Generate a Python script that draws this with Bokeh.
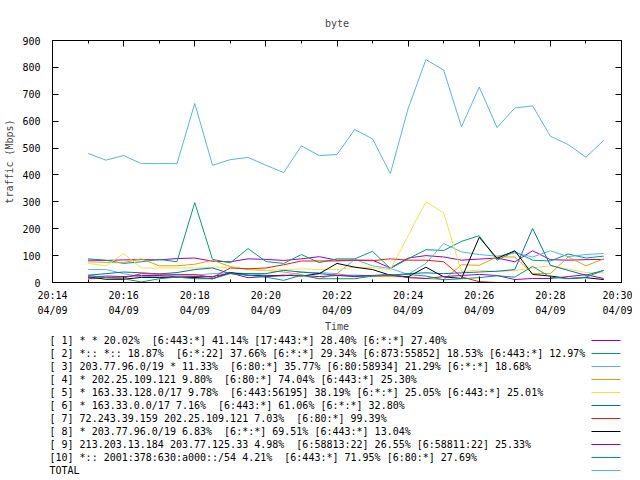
from bokeh.plotting import figure
from bokeh.models import FixedTicker, LinearAxis, Range1d
from bokeh.layouts import column
from bokeh.embed import file_html
from bokeh.resources import INLINE
from bokeh.core.properties import value

# ---------------- data ----------------
times = ["20:15:00", "20:15:30", "20:16:00", "20:16:30", "20:17:00", "20:17:30",
         "20:18:00", "20:18:30", "20:19:00", "20:19:30", "20:20:00", "20:20:30",
         "20:21:00", "20:21:30", "20:22:00", "20:22:30", "20:23:00", "20:23:30",
         "20:24:00", "20:24:30", "20:25:00", "20:25:30", "20:26:00", "20:26:30",
         "20:27:00", "20:27:30", "20:28:00", "20:28:30", "20:29:00", "20:29:30"]

s1 = [83, 82, 84, 85, 84, 89, 91, 79, 77, 88, 86, 82, 88, 96, 83, 83, 83, 54, 91, 100,
      95, 83, 87, 91, 77, 118, 85, 83, 85, 86]
s2 = [88, 83, 71, 77, 86, 77, 297, 86, 73, 126, 78, 71, 104, 74, 88, 88, 116, 52, 88, 122,
      119, 153, 174, 83, 115, 83, 80, 106, 91, 98]
s3 = [48, 48, 33, 21, 24, 27, 27, 33, 37, 33, 27, 24, 38, 37, 33, 86, 62, 52, 30, 71,
      145, 114, 104, 98, 110, 95, 118, 96, 104, 108]
s4 = [77, 75, 74, 88, 62, 62, 68, 83, 59, 48, 45, 39, 29, 14, 33, 21, 22, 22, 21, 15,
      11, 66, 64, 95, 95, 33, 33, 95, 62, 88]
s5 = [71, 62, 108, 54, 54, 54, 54, 57, 57, 51, 45, 48, 51, 48, 48, 57, 55, 48, 174, 300,
      259, 40, 46, 40, 44, 54, 62, 50, 37, 37]
s6 = [27, 33, 39, 36, 32, 37, 48, 54, 33, 33, 33, 45, 39, 33, 27, 27, 25, 27, 33, 36,
      33, 36, 39, 42, 48, 201, 64, 45, 27, 45]
s7 = [14, 19, 17, 33, 31, 30, 30, 19, 54, 51, 54, 66, 80, 80, 80, 83, 81, 88, 83, 83,
      77, 21, 3, 0, 0, 0, 0, 0, 0, 0]
s8 = [21, 12, 12, 19, 19, 19, 19, 14, 37, 27, 24, 27, 24, 33, 71, 57, 48, 27, 21, 57,
      21, 15, 168, 90, 118, 30, 24, 15, 18, 11]
s9 = [19, 24, 22, 26, 26, 21, 22, 22, 35, 18, 22, 26, 26, 22, 26, 22, 26, 30, 18, 15,
      22, 26, 30, 26, 11, 15, 15, 22, 29, 15]
s10 = [27, 18, 14, 2, 14, 20, 14, 14, 33, 27, 20, 8, 27, 14, 14, 14, 24, 27, 30, 24,
       10, 14, 18, 25, 20, 60, 20, 14, 20, 45]
total = [480, 455, 472, 442, 442, 442, 666, 436, 457, 465, 436, 409, 508, 472, 476, 569,
         534, 405, 647, 829, 790, 579, 727, 576, 649, 657, 544, 513, 466, 529]

series = [s1, s2, s3, s4, s5, s6, s7, s8, s9, s10, total]

legend_labels = [
    "[ 1] * * 20.02%  [6:443:*] 41.14% [17:443:*] 28.40% [6:*:*] 27.40%",
    "[ 2] *:: *:: 18.87%  [6:*:22] 37.66% [6:*:*] 29.34% [6:873:55852] 18.53% [6:443:*] 12.97%",
    "[ 3] 203.77.96.0/19 * 11.33%  [6:80:*] 35.77% [6:80:58934] 21.29% [6:*:*] 18.68%",
    "[ 4] * 202.25.109.121 9.80%  [6:80:*] 74.04% [6:443:*] 25.30%",
    "[ 5] * 163.33.128.0/17 9.78%  [6:443:56195] 38.19% [6:*:*] 25.05% [6:443:*] 25.01%",
    "[ 6] * 163.33.0.0/17 7.16%  [6:443:*] 61.06% [6:*:*] 32.80%",
    "[ 7] 72.243.39.159 202.25.109.121 7.03%  [6:80:*] 99.39%",
    "[ 8] * 203.77.96.0/19 6.83%  [6:*:*] 69.51% [6:443:*] 13.04%",
    "[ 9] 213.203.13.184 203.77.125.33 4.98%  [6:58813:22] 26.55% [6:58811:22] 25.33%",
    "[10] *:: 2001:378:630:a000::/54 4.21%  [6:443:*] 71.95% [6:80:*] 27.69%",
    "TOTAL",
]

x_tick_minutes = [14, 16, 18, 20, 22, 24, 26, 28, 30]
x_tick_labels = ["20:14", "20:16", "20:18", "20:20", "20:22", "20:24", "20:26", "20:28", "20:30"]
date_label = "04/09"
y_ticks = [0, 100, 200, 300, 400, 500, 600, 700, 800, 900]

# ---------------- styles ----------------
colors = ["#9400d3", "#009e73", "#56b4e9", "#e69f00", "#f0e442", "#0072b2",
          "#e51e10", "#000000", "#9400d3", "#009e73", "#56b4e9"]
FONT = "DejaVu Sans Mono"
FS = "10px"


def to_minutes(t):
    h, m, s = (int(v) for v in t.split(":"))
    return (h - 20) * 60 + m + s / 60.0


x = [to_minutes(t) for t in times]

W = 632
p = figure(width=W, height=334, x_range=Range1d(14, 30), y_range=Range1d(0, 900),
           output_backend="svg", toolbar_location=None,
           min_border_left=52, min_border_right=11, min_border_top=40, min_border_bottom=52,
           title="byte")
p.frame_align = False
p.title.align = "center"
p.title.text_font = FONT
p.title.text_font_size = FS
p.title.text_font_style = "normal"
p.title.standoff = 24

p.xgrid.visible = False
p.ygrid.visible = False
p.outline_line_color = "black"
p.outline_line_width = 1

xticker = FixedTicker(ticks=x_tick_minutes, minor_ticks=list(range(14, 31)))
yticker = FixedTicker(ticks=y_ticks, minor_ticks=[])


def style_axis(ax, labels=True):
    ax.axis_line_color = "black"
    ax.major_tick_in = 6
    ax.major_tick_out = 0
    ax.minor_tick_in = 3
    ax.minor_tick_out = 0
    ax.major_tick_line_color = "black"
    ax.minor_tick_line_color = "black"
    ax.major_label_text_font = FONT
    ax.axis_label_text_font = FONT
    ax.axis_label_text_font_size = FS
    ax.axis_label_text_font_style = "normal"
    if labels:
        ax.major_label_text_font_size = FS
        ax.major_label_text_color = "black"
    else:
        ax.major_label_text_font_size = "0px"
        ax.major_label_text_color = None
        ax.major_label_standoff = 0


# bottom axis: time of day
xa = p.xaxis[0]
xa.ticker = xticker
xa.major_label_overrides = {m: lab for m, lab in zip(x_tick_minutes, x_tick_labels)}
style_axis(xa)
xa.major_label_standoff = 7

# second bottom axis: date line under each time label, plus axis title
xd = LinearAxis(ticker=xticker)
style_axis(xd)
xd.major_label_overrides = {m: date_label for m in x_tick_minutes}
xd.axis_line_color = None
xd.major_tick_line_color = None
xd.minor_tick_line_color = None
xd.major_tick_in = 0
xd.minor_tick_in = 0
xd.major_label_standoff = 1
xd.axis_label = "Time"
xd.axis_label_standoff = 2
p.add_layout(xd, "below")

ya = p.yaxis[0]
ya.ticker = yticker
style_axis(ya)
ya.minor_tick_in = 0
ya.major_label_standoff = 12
ya.axis_label = "traffic (Mbps)"
ya.axis_label_standoff = 4

top = LinearAxis(ticker=xticker)
style_axis(top, labels=False)
p.add_layout(top, "above")

right = LinearAxis(ticker=yticker)
style_axis(right, labels=False)
right.minor_tick_in = 0
p.add_layout(right, "right")

for vals, c in zip(series, colors):
    p.line(x, vals, line_color=c, line_width=1)

# ---------------- legend below ----------------
LH = 144
lg = figure(width=W, height=LH, x_range=Range1d(0, W), y_range=Range1d(LH, 0),
            output_backend="svg", toolbar_location=None,
            x_axis_location=None, y_axis_location=None, min_border=0)
lg.frame_align = False
lg.grid.visible = False
lg.outline_line_color = None

shown = [s.replace("  ", " \u00a0") for s in legend_labels]
row_y = [6 + 13 * i for i in range(len(legend_labels))]
lg.text(x=[49] * len(legend_labels), y=row_y, text=shown,
        text_font=value(FONT), text_font_size=FS, text_align="left",
        text_baseline="middle", text_color="black")
lg.segment(x0=[591] * len(colors), y0=row_y, x1=[620] * len(colors), y1=row_y,
           line_color=colors, line_width=1)

layout = column(p, lg)
open("out.html", "w").write(file_html(layout, INLINE))
